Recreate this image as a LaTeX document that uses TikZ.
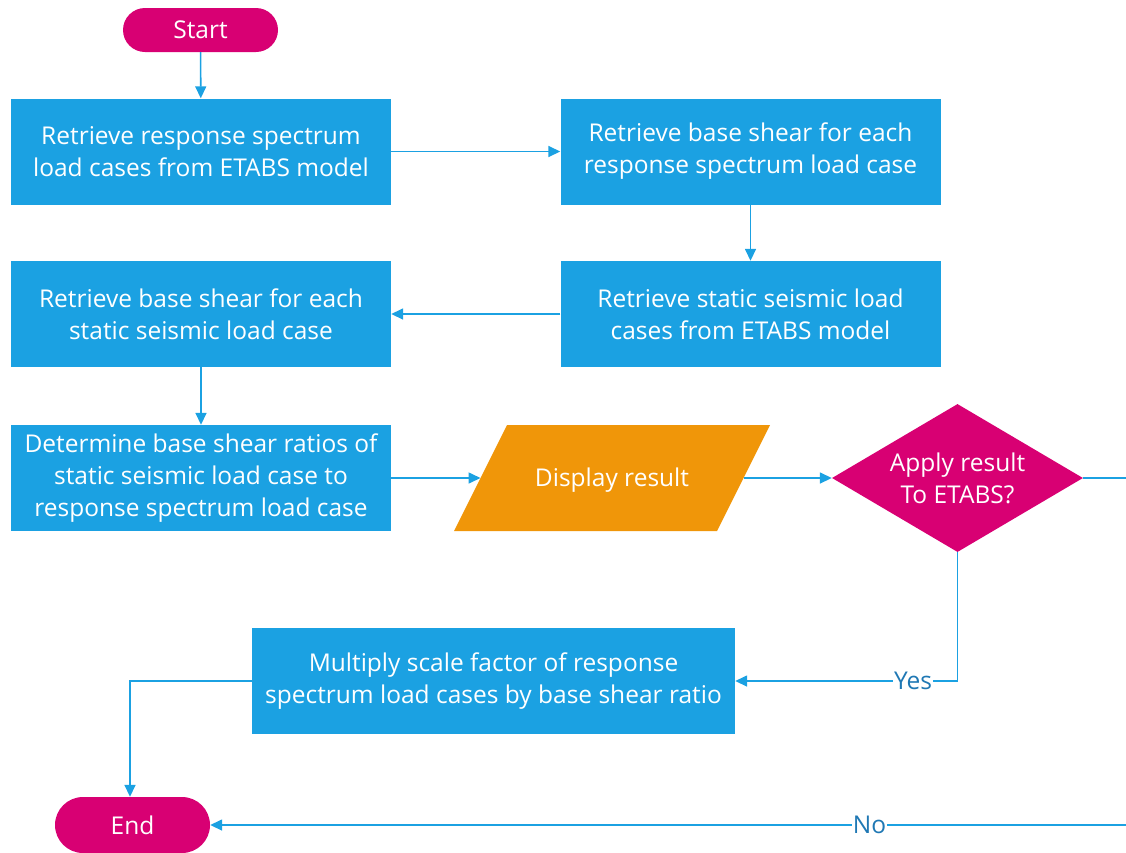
\documentclass[tikz,border=0pt]{standalone}
\usepackage{fontspec}
\setmainfont{Open Sans}
\usetikzlibrary{shapes.geometric,arrows.meta}
\definecolor{mblue}{HTML}{1BA1E2}
\definecolor{mmag}{HTML}{D80073}
\definecolor{morange}{HTML}{F09609}
\definecolor{lbl}{HTML}{1F78B4}
\tikzset{
  x=1pt,y=-1pt,
  every node/.style={font=\fontsize{24.5}{32}\selectfont, text=white, inner sep=0pt, align=center},
  proc/.style={rectangle, fill=mblue, minimum width=380pt, minimum height=106pt},
  term/.style={rectangle, fill=mmag, minimum width=155pt, rounded corners=22pt},
  decision/.style={diamond, fill=mmag, aspect=1.696, minimum width=251pt, minimum height=148pt},
  conn/.style={draw=mblue, line width=1.6pt, -{Triangle[length=12pt,width=11pt]}},
  plain/.style={draw=mblue, line width=1.6pt},
  lab/.style={fill=white, text=lbl, inner xsep=1pt, inner ysep=2pt}
}
\begin{document}
\begin{tikzpicture}
\useasboundingbox (0,0) rectangle (1126,852);
\clip (0,0) rectangle (1126,852);
\node[term, minimum height=44pt] (start) at (200.5,30) {Start};
\node[proc] (b1) at (201,151.5) {Retrieve response spectrum\\load cases from ETABS model};
\node[proc] (b2) at (750.5,151.5) {Retrieve base shear for each\\response spectrum load case};
\node[proc] (b3) at (750.5,314) {Retrieve static seismic load\\cases from ETABS model};
\node[proc] (b4) at (201,314) {Retrieve base shear for each\\static seismic load case};
\node[proc] (b5) at (201,478) {Determine base shear ratios of\\static seismic load case to\\response spectrum load case};
% parallelogram
\fill[morange] (507,425) -- (770,425) -- (717,531) -- (454,531) -- cycle;
\node (disp) at (612,480) {Display result};
\coordinate (dispL) at (480.5,478);
\coordinate (dispR) at (743.5,478);
\node[decision] (dec) at (957.5,478) {Apply result\\To ETABS?};
\node[proc, minimum width=483pt] (b6) at (493.5,681) {Multiply scale factor of response\\spectrum load cases by base shear ratio};
\node[term, minimum height=56pt, rounded corners=28pt] (end) at (132.5,825) {End};
\coordinate (rt) at (1126,478);
\coordinate (rb) at (1126,825);
\coordinate (yc) at (957.5,681);
\coordinate (lc) at (130,681);

\draw[conn] (start) -- (b1);
\draw[conn] (b1) -- (b2);
\draw[conn] (b2) -- (b3);
\draw[conn] (b3) -- (b4);
\draw[conn] (b4) -- (b5);
\draw[conn] (b5) -- (dispL);
\draw[conn] (dispR) -- (dec);
\draw[conn] (dec.south) -- (yc) -- (b6.east) node[lab, pos=0.2] {Yes};
\draw[conn] (b6.west) -- (lc) -- (end.north -| lc);
\draw[plain] (dec.east) -- (rt);
\draw[conn] (rb) -- (end.east) node[lab, pos=0.28] {No};
\end{tikzpicture}
\end{document}
